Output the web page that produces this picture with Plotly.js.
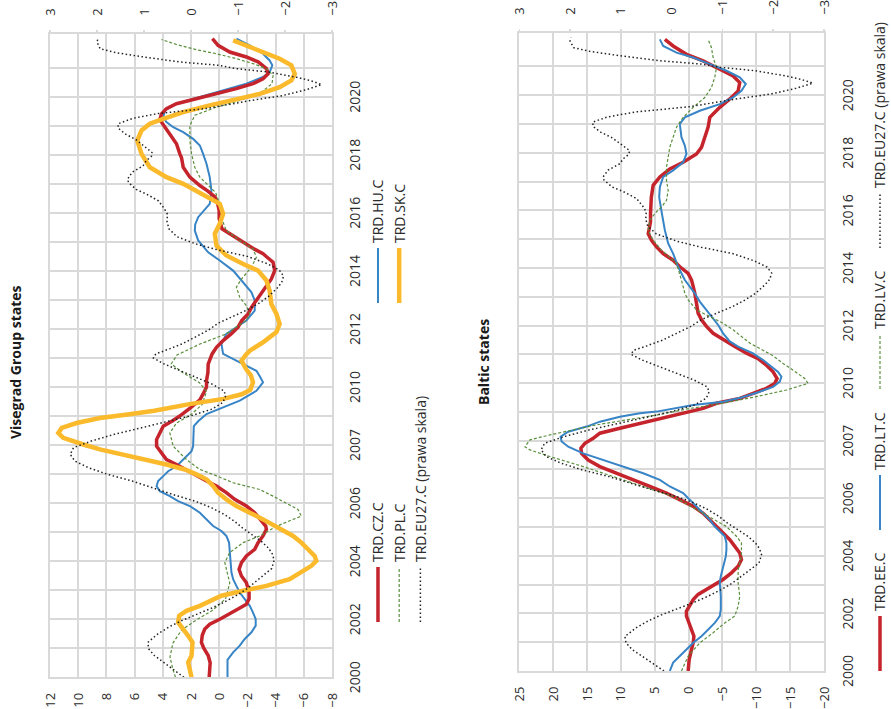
<!DOCTYPE html>
<html>
<head>
<meta charset="utf-8">
<script src="https://cdn.plot.ly/plotly-3.0.1.min.js"></script>
<style>
  html, body { margin: 0; padding: 0; background: #fff; overflow: hidden; width: 891px; height: 709px; }
  /* The chart is laid out upright (709 x 891) and turned a quarter turn counter-clockwise. */
  #chart { position: absolute; left: 0; top: 0; width: 709px; height: 891px;
           transform-origin: 0 0; transform: translate(0, 709px) rotate(-90deg); }
</style>
</head>
<body>
<div id="chart"></div>
<script>
// ---- Year axis labels (category labels as printed on the axis) ----
const yearTickVals = [2000, 2002, 2004, 2006, 2008, 2010, 2012, 2014, 2016, 2018, 2020];
const yearTickText = ['2000', '2002', '2004', '2006', '2007', '2010', '2012', '2014', '2016', '2018', '2020'];

// ---- Visegrad Group: [year, value] ----
const trdCZ = [[2000.0,0.71],[2000.5,0.64],[2000.75,0.78],[2001.0,1.09],[2001.2,1.26],[2001.45,1.2],[2001.66,1.02],[2001.83,0.67],[2002.0,-0.04],[2002.18,-0.75],[2002.35,-1.34],[2002.52,-1.93],[2002.7,-2.12],[2002.92,-2.12],[2003.26,-1.93],[2003.49,-1.58],[2003.72,-1.41],[2003.95,-1.58],[2004.18,-1.93],[2004.41,-2.52],[2004.64,-2.76],[2004.87,-3.11],[2005.1,-3.35],[2005.21,-3.3],[2005.44,-2.88],[2005.67,-2.52],[2005.9,-1.93],[2006.13,-1.1],[2006.36,-0.51],[2006.59,0.19],[2006.76,0.9],[2006.99,1.73],[2007.16,2.44],[2007.33,3.03],[2007.5,3.74],[2007.73,4.09],[2007.96,4.44],[2008.19,4.44],[2008.42,4.21],[2008.65,3.97],[2008.84,3.3],[2009.0,2.8],[2009.3,2.0],[2009.56,1.37],[2009.76,1.14],[2010.0,0.9],[2010.22,0.9],[2010.5,0.8],[2010.79,0.78],[2011.14,0.5],[2011.37,0.19],[2011.6,-0.28],[2011.83,-0.85],[2012.06,-1.34],[2012.29,-1.6],[2012.52,-2.05],[2012.75,-2.3],[2012.98,-2.64],[2013.21,-2.95],[2013.38,-3.23],[2013.72,-3.7],[2014.01,-3.94],[2014.3,-3.82],[2014.47,-3.4],[2014.59,-3.11],[2014.75,-2.5],[2014.93,-1.93],[2015.1,-1.3],[2015.28,-0.75],[2015.45,-0.2],[2015.8,0.0],[2016.08,0.0],[2016.3,0.1],[2016.55,0.3],[2016.75,0.8],[2016.94,1.37],[2017.23,2.08],[2017.57,2.55],[2017.9,2.67],[2018.03,2.79],[2018.38,3.03],[2018.72,3.5],[2019.01,3.97],[2019.21,4.21],[2019.41,4.09],[2019.59,3.74],[2019.76,3.03],[2019.93,1.61],[2020.1,0.19],[2020.28,-1.22],[2020.45,-2.4],[2020.62,-3.11],[2020.79,-3.47],[2020.97,-3.35],[2021.2,-2.76],[2021.37,-1.93],[2021.54,-0.75],[2021.77,0.08],[2022.0,0.48]];

const trdHU = [[2000.0,-0.59],[2000.6,-0.59],[2000.86,-0.99],[2001.09,-1.46],[2001.32,-1.81],[2001.55,-2.29],[2001.78,-2.59],[2002.0,-2.59],[2002.23,-2.4],[2002.46,-2.17],[2002.69,-1.81],[2002.92,-1.46],[2003.15,-1.22],[2003.38,-0.99],[2003.61,-0.87],[2003.95,-0.8],[2004.3,-0.75],[2004.64,-0.7],[2004.87,-0.51],[2005.04,-0.16],[2005.21,0.43],[2005.44,0.9],[2005.67,1.37],[2005.9,2.08],[2006.07,2.91],[2006.24,3.5],[2006.41,4.21],[2006.59,4.44],[2006.76,4.33],[2006.93,3.97],[2007.1,3.62],[2007.27,3.03],[2007.45,2.67],[2007.62,2.32],[2007.79,1.96],[2007.96,1.85],[2008.3,1.8],[2008.65,1.8],[2008.82,1.49],[2009.07,0.9],[2009.3,-0.28],[2009.53,-1.46],[2009.87,-2.64],[2010.16,-3.11],[2010.37,-2.88],[2010.56,-2.64],[2010.85,-1.46],[2011.14,-0.28],[2011.48,-0.16],[2011.83,-0.51],[2012.06,-1.22],[2012.29,-1.93],[2012.63,-2.52],[2012.98,-2.52],[2013.26,-2.29],[2013.61,-1.7],[2014.01,-0.99],[2014.36,-0.04],[2014.64,0.78],[2015.05,1.49],[2015.39,1.73],[2015.6,1.7],[2015.85,1.49],[2016.31,0.67],[2016.77,0.55],[2017.23,0.67],[2017.69,0.9],[2018.03,1.14],[2018.32,1.37],[2018.55,1.85],[2018.78,2.55],[2018.95,3.26],[2019.13,3.74],[2019.28,3.97],[2019.53,3.85],[2019.76,3.03],[2019.99,1.37],[2020.22,-0.28],[2020.45,-1.93],[2020.68,-3.11],[2020.85,-3.58],[2021.08,-3.77],[2021.25,-3.58],[2021.48,-3.11],[2021.77,-2.17],[2022.0,-1.22]];

const trdPL = [[2000.0,3.1],[2000.3,3.3],[2000.7,3.49],[2001.18,3.28],[2001.63,2.66],[2001.98,1.6],[2002.3,0.5],[2002.7,-0.45],[2003.25,-0.75],[2003.7,-0.51],[2003.95,-0.4],[2004.3,-0.75],[2004.64,-1.7],[2004.87,-2.88],[2005.2,-4.06],[2005.44,-5.24],[2005.55,-5.83],[2005.78,-5.59],[2006.0,-4.77],[2006.24,-3.82],[2006.47,-2.88],[2006.7,-0.99],[2006.94,0.19],[2007.16,1.37],[2007.5,2.32],[2007.96,3.26],[2008.42,3.5],[2008.76,3.03],[2009.05,2.0],[2009.4,1.2],[2009.85,0.9],[2010.15,1.4],[2010.5,2.6],[2010.8,3.4],[2011.1,3.0],[2011.48,1.37],[2011.83,-0.51],[2012.06,-1.22],[2012.3,-1.93],[2012.52,-2.17],[2012.8,-1.93],[2013.09,-1.46],[2013.44,-1.22],[2013.72,-1.58],[2014.13,-2.29],[2014.47,-2.64],[2014.76,-2.4],[2015.05,-1.46],[2015.39,-0.51],[2015.74,-0.23],[2016.3,-0.04],[2016.7,0.25],[2016.95,0.8],[2017.23,1.37],[2017.57,1.73],[2018.03,1.96],[2018.49,2.08],[2019.0,2.08],[2019.36,1.73],[2019.64,0.2],[2019.82,-1.1],[2019.99,-2.2],[2020.2,-3.11],[2020.45,-3.75],[2020.74,-3.82],[2020.97,-3.35],[2021.14,-2.4],[2021.31,-1.22],[2021.48,0.19],[2021.62,1.61],[2021.8,3.03],[2021.97,4.09]];

const trdSK = [[2000.0,1.96],[2000.29,2.08],[2000.52,2.2],[2000.74,1.96],[2000.97,1.89],[2001.2,1.89],[2001.43,2.2],[2001.66,2.55],[2001.89,2.91],[2002.12,2.84],[2002.29,2.32],[2002.46,1.37],[2002.63,0.67],[2002.81,-0.16],[2002.98,-1.7],[2003.15,-3.35],[2003.38,-5.0],[2003.61,-5.83],[2003.84,-6.54],[2004.01,-6.89],[2004.18,-6.77],[2004.41,-6.3],[2004.64,-5.83],[2004.87,-5.24],[2005.04,-4.65],[2005.21,-4.06],[2005.44,-3.11],[2005.67,-2.17],[2005.9,-1.22],[2006.13,-0.51],[2006.36,0.08],[2006.59,0.43],[2006.82,0.9],[2006.99,1.61],[2007.16,2.44],[2007.33,3.74],[2007.5,5.39],[2007.67,6.81],[2007.85,8.46],[2008.02,9.64],[2008.25,11.06],[2008.42,11.41],[2008.59,11.17],[2008.76,10.11],[2008.93,8.46],[2009.05,6.5],[2009.18,4.6],[2009.41,2.1],[2009.59,-0.3],[2009.75,-1.6],[2009.9,-2.2],[2010.16,-2.4],[2010.4,-2.25],[2010.6,-1.93],[2010.91,-1.58],[2011.11,-1.9],[2011.25,-2.17],[2011.54,-3.11],[2011.89,-4.06],[2012.17,-4.29],[2012.52,-4.06],[2012.86,-3.7],[2013.32,-3.58],[2013.67,-3.35],[2014.01,-2.76],[2014.24,-1.7],[2014.53,-0.51],[2014.87,0.19],[2015.28,0.31],[2015.62,-0.04],[2015.97,-0.28],[2016.31,-0.04],[2016.6,1.02],[2016.77,1.6],[2017.0,2.55],[2017.23,3.74],[2017.57,4.92],[2018.03,5.51],[2018.49,5.81],[2018.84,5.51],[2019.07,4.92],[2019.24,3.97],[2019.47,2.55],[2019.7,0.67],[2019.93,-1.22],[2020.1,-2.88],[2020.33,-4.29],[2020.56,-5.12],[2020.79,-5.36],[2021.08,-5.12],[2021.31,-4.29],[2021.54,-3.11],[2021.77,-1.93],[2021.94,-0.99]];

// ---- EU27 reference (right-hand scale), shown in both panels ----
const trdEU27 = [[2000.0,0.15],[2000.3,0.4],[2000.52,0.58],[2000.75,0.78],[2000.98,0.9],[2001.2,0.92],[2001.5,0.7],[2001.75,0.45],[2001.95,0.2],[2002.14,-0.1],[2002.37,-0.42],[2002.6,-0.72],[2002.83,-0.98],[2003.06,-1.2],[2003.29,-1.38],[2003.52,-1.56],[2003.75,-1.72],[2004.04,-1.77],[2004.25,-1.73],[2004.45,-1.65],[2004.68,-1.5],[2004.91,-1.3],[2005.14,-1.1],[2005.37,-0.93],[2005.6,-0.72],[2005.83,-0.45],[2006.06,-0.1],[2006.29,0.37],[2006.52,0.78],[2006.76,1.25],[2006.99,1.77],[2007.22,2.18],[2007.45,2.47],[2007.68,2.57],[2007.91,2.5],[2008.14,2.12],[2008.37,1.63],[2008.6,1.05],[2008.83,0.48],[2009.01,0.0],[2009.24,-0.45],[2009.47,-0.68],[2009.7,-0.74],[2009.87,-0.7],[2010.1,-0.45],[2010.33,-0.1],[2010.57,0.25],[2010.8,0.58],[2011.0,0.8],[2011.14,0.75],[2011.3,0.48],[2011.5,0.17],[2011.73,-0.1],[2011.97,-0.38],[2012.2,-0.58],[2012.43,-0.88],[2012.66,-1.2],[2012.89,-1.45],[2013.12,-1.65],[2013.4,-1.83],[2013.6,-1.93],[2013.82,-1.97],[2014.03,-1.88],[2014.25,-1.62],[2014.5,-1.2],[2014.72,-0.58],[2014.93,-0.1],[2015.18,0.3],[2015.45,0.47],[2015.7,0.51],[2015.95,0.5],[2016.15,0.57],[2016.41,0.69],[2016.65,0.95],[2016.81,1.17],[2017.05,1.33],[2017.16,1.35],[2017.4,1.25],[2017.62,1.02],[2017.8,0.95],[2017.95,0.84],[2018.08,0.83],[2018.3,1.0],[2018.52,1.17],[2018.72,1.4],[2018.92,1.55],[2019.07,1.55],[2019.25,1.25],[2019.42,0.7],[2019.6,-0.35],[2019.87,-1.27],[2020.04,-1.95],[2020.24,-2.45],[2020.42,-2.78],[2020.55,-2.55],[2020.67,-2.25],[2020.85,-1.65],[2020.97,-0.95],[2021.08,-0.6],[2021.2,0.25],[2021.38,1.05],[2021.52,1.6],[2021.65,1.93],[2021.88,2.0],[2022.0,1.98]];

// ---- Baltic states: [year, value] ----
const trdEE = [[2000.0,0.06],[2000.4,-0.09],[2000.75,-0.44],[2000.98,-0.69],[2001.21,-0.79],[2001.44,-0.44],[2001.67,-0.19],[2001.91,0.31],[2002.08,0.31],[2002.25,-0.09],[2002.48,-0.69],[2002.66,-1.41],[2002.83,-2.64],[2003.0,-3.87],[2003.18,-5.1],[2003.41,-6.33],[2003.64,-7.32],[2003.87,-7.81],[2004.1,-7.56],[2004.33,-6.83],[2004.56,-6.09],[2004.79,-5.1],[2005.02,-4.12],[2005.25,-3.14],[2005.48,-2.15],[2005.72,-0.69],[2005.95,1.29],[2006.18,3.26],[2006.41,5.72],[2006.64,8.18],[2006.87,10.64],[2007.1,13.1],[2007.33,14.82],[2007.56,15.8],[2007.74,15.9],[2007.91,15.31],[2008.08,14.08],[2008.26,13.1],[2008.43,10.14],[2008.6,7.19],[2008.78,4.24],[2008.95,0.8],[2009.12,-2.15],[2009.3,-4.12],[2009.47,-7.56],[2009.64,-9.53],[2009.82,-11.5],[2009.99,-12.73],[2010.16,-13.07],[2010.39,-12.48],[2010.62,-11.5],[2010.85,-10.27],[2011.04,-8.55],[2011.27,-6.83],[2011.5,-5.1],[2011.73,-3.63],[2011.97,-2.64],[2012.2,-1.91],[2012.43,-1.41],[2012.66,-1.27],[2012.89,-1.07],[2013.12,-0.92],[2013.35,-0.69],[2013.58,-0.44],[2013.81,0.06],[2014.04,1.29],[2014.27,2.28],[2014.5,3.75],[2014.73,4.73],[2014.96,5.47],[2015.19,5.96],[2015.37,5.82],[2015.6,5.62],[2015.89,5.62],[2016.12,5.57],[2016.46,5.5],[2016.87,5.23],[2017.16,4.24],[2017.44,2.77],[2017.67,0.8],[2017.96,-1.17],[2018.19,-1.91],[2018.54,-2.4],[2018.89,-2.89],[2019.23,-3.14],[2019.58,-4.61],[2019.87,-6.09],[2020.15,-7.32],[2020.44,-7.56],[2020.67,-6.58],[2020.9,-4.61],[2021.19,-2.15],[2021.42,0.31],[2021.71,2.28],[2021.94,3.5]];

const trdLT = [[2000.0,2.77],[2000.29,2.28],[2000.52,1.29],[2000.75,0.31],[2000.98,-0.69],[2001.21,-1.91],[2001.44,-2.89],[2001.67,-3.87],[2001.91,-4.61],[2002.14,-4.76],[2002.6,-4.76],[2002.83,-4.71],[2003.06,-4.61],[2003.29,-4.76],[2003.52,-5.0],[2003.75,-5.2],[2003.98,-5.5],[2004.21,-5.59],[2004.45,-5.59],[2004.68,-5.35],[2004.85,-4.61],[2005.02,-3.87],[2005.25,-3.14],[2005.48,-2.15],[2005.72,-1.17],[2005.95,-0.19],[2006.18,0.8],[2006.41,2.77],[2006.64,4.24],[2006.87,6.7],[2007.1,9.65],[2007.33,12.6],[2007.56,15.56],[2007.79,17.77],[2007.97,18.75],[2008.14,18.9],[2008.31,17.77],[2008.49,15.06],[2008.66,13.1],[2008.83,10.14],[2008.95,7.19],[2009.01,4.73],[2009.12,2.28],[2009.24,-0.69],[2009.35,-5.1],[2009.5,-7.81],[2009.7,-10.51],[2009.87,-12.48],[2010.05,-13.47],[2010.22,-13.71],[2010.39,-13.22],[2010.57,-12.24],[2010.8,-11.01],[2011.03,-9.53],[2011.27,-7.32],[2011.45,-6.09],[2011.73,-5.1],[2012.02,-4.37],[2012.25,-3.63],[2012.54,-2.64],[2012.83,-1.66],[2013.12,-0.92],[2013.35,-0.18],[2013.58,0.55],[2014.04,1.54],[2014.5,2.28],[2014.85,3.01],[2015.31,3.5],[2015.77,3.85],[2016.23,4.24],[2016.46,4.34],[2016.81,4.24],[2017.16,3.75],[2017.39,2.28],[2017.67,0.8],[2017.96,0.31],[2018.25,0.55],[2018.54,1.05],[2019.0,1.29],[2019.23,0.55],[2019.46,-1.66],[2019.69,-4.61],[2019.92,-6.58],[2020.15,-7.81],[2020.39,-8.45],[2020.62,-7.56],[2020.85,-5.6],[2021.08,-3.14],[2021.31,-0.68],[2021.48,1.78],[2021.71,3.75],[2021.94,4.24]];

const trdLV = [[2000.0,1.05],[2000.52,0.06],[2000.98,-1.66],[2001.33,-3.63],[2001.67,-5.35],[2001.91,-6.83],[2002.25,-7.32],[2002.6,-7.56],[2003.06,-7.32],[2003.52,-7.32],[2003.98,-7.81],[2004.45,-7.81],[2004.68,-7.07],[2005.02,-5.59],[2005.48,-2.15],[2006.06,2.28],[2006.29,5.23],[2006.64,9.65],[2007.1,15.56],[2007.45,20.47],[2007.68,23.43],[2007.79,24.16],[2008.03,23.43],[2008.2,20.47],[2008.37,17.03],[2008.55,13.59],[2008.72,9.16],[2008.89,4.73],[2009.12,-0.18],[2009.3,-5.1],[2009.53,-10.02],[2009.76,-14.45],[2009.99,-17.65],[2010.16,-17.15],[2010.45,-15.43],[2010.68,-13.96],[2010.95,-12.48],[2011.39,-9.04],[2011.85,-6.58],[2012.08,-5.1],[2012.31,-3.14],[2012.54,-1.17],[2012.89,0.06],[2013.12,0.55],[2013.58,1.05],[2014.16,1.78],[2014.62,3.99],[2014.96,5.23],[2015.31,5.96],[2015.66,5.72],[2015.89,4.98],[2016.12,3.99],[2016.35,3.26],[2016.69,3.01],[2017.04,3.26],[2017.5,3.26],[2017.85,3.01],[2018.19,2.77],[2018.54,2.28],[2018.89,1.78],[2019.23,0.8],[2019.58,-0.68],[2019.92,-2.4],[2020.27,-3.38],[2020.62,-3.87],[2020.96,-4.12],[2021.31,-3.63],[2021.65,-3.38],[2021.94,-2.89]];

// ---- Styling ----
const RED = '#c5242c', BLUE = '#3784c6', YELLOW = '#fbba2b', GREEN = '#5a8f3c', BLACK = '#222222';
const GRID = '#d9d9d9';
const VALUE_FONT = { family: '"Open Sans", sans-serif', size: 13, color: '#2b2b2b' };
const YEAR_FONT = { family: '"Open Sans", sans-serif', size: 14, color: '#2b2b2b' };

// yearly gridlines between the labelled ticks
const gridYears = [];
for (let yr = 2000; yr <= 2021; yr++) gridYears.push(yr);

const xs = s => s.map(p => p[0]);
const ys = s => s.map(p => p[1]);

function line(series, name, xa, ya, legend, rank, style, extra) {
  return Object.assign({
    type: 'scatter', mode: 'lines', name: name,
    x: xs(series), y: ys(series), xaxis: xa, yaxis: ya,
    legend: legend, legendrank: rank, line: style, hoverinfo: 'skip'
  }, extra || {});
}

const dashGreen = '3px,2px';
const dotBlack = '1.5px,2.5px';

const traces = [
  // Visegrad Group
  line(trdHU, 'TRD.HU.C', 'x', 'y', 'legend', 2, { color: BLUE, width: 2 }, { legendwidth: 60 }),
  line(trdCZ, 'TRD.CZ.C', 'x', 'y', 'legend', 1, { color: RED, width: 3.5 }),
  line(trdPL, 'TRD.PL.C', 'x', 'y', 'legend', 3, { color: GREEN, width: 1.2, dash: dashGreen }),
  line(trdSK, 'TRD.SK.C', 'x', 'y', 'legend', 4, { color: YELLOW, width: 4.5 }, { legendwidth: 60 }),
  line(trdEU27, 'TRD.EU27.C (prawa skala)', 'x', 'y3', 'legend', 5, { color: BLACK, width: 1.5, dash: dotBlack }),
  // Baltic states
  line(trdEE, 'TRD.EE.C', 'x2', 'y2', 'legend2', 1, { color: RED, width: 3.5 }),
  line(trdLT, 'TRD.LT.C', 'x2', 'y2', 'legend2', 2, { color: BLUE, width: 2 }),
  line(trdLV, 'TRD.LV.C', 'x2', 'y2', 'legend2', 3, { color: GREEN, width: 1.2, dash: dashGreen }),
  line(trdEU27, 'TRD.EU27.C (prawa skala)', 'x2', 'y4', 'legend2', 4, { color: BLACK, width: 1.5, dash: dotBlack }, { legendwidth: 170 })
];

function yearAxis(domain, anchor, standoff) {
  return {
    domain: domain, anchor: anchor, range: [2000, 2022.15],
    tickmode: 'array', tickvals: yearTickVals, ticktext: yearTickText,
    showgrid: true, gridcolor: GRID, gridwidth: 2,
    minor: { tickmode: 'array', tickvals: gridYears, showgrid: true, gridcolor: GRID, gridwidth: 2, ticks: '' },
    showline: true, mirror: true, linecolor: GRID, linewidth: 2,
    ticks: '', zeroline: false, tickfont: YEAR_FONT, ticklabelstandoff: standoff, fixedrange: true
  };
}
function valueAxis(domain, anchor, range, dtick) {
  return {
    domain: domain, anchor: anchor, range: range, dtick: dtick, tick0: 0,
    showgrid: true, gridcolor: GRID, gridwidth: 2, zeroline: false,
    showline: true, mirror: true, linecolor: GRID, linewidth: 2,
    ticks: '', tickfont: VALUE_FONT, ticklabelstandoff: 11, fixedrange: true
  };
}
function rightAxis(over, anchor) {
  return {
    overlaying: over, anchor: anchor, side: 'right', range: [-3, 3], dtick: 1, tick0: 0,
    showgrid: false, zeroline: false, showline: false,
    ticks: 'outside', ticklen: 3, tickwidth: 1.5, tickcolor: GRID,
    tickfont: VALUE_FONT, ticklabelstandoff: 12, fixedrange: true
  };
}

const legendBase = {
  orientation: 'h', xanchor: 'left', yanchor: 'top', itemwidth: 55,
  font: { family: '"Open Sans", sans-serif', size: 14, color: '#2b2b2b' },
  bgcolor: 'rgba(0,0,0,0)', traceorder: 'normal', itemclick: false, itemdoubleclick: false
};

const layout = {
  width: 709, height: 891,
  margin: { l: 20, r: 20, t: 50, b: 67, autoexpand: false },
  paper_bgcolor: '#ffffff', plot_bgcolor: '#ffffff',
  font: { family: '"Open Sans", sans-serif', color: '#2b2b2b' },
  showlegend: true, hovermode: false,
  xaxis: yearAxis([0.0175, 0.9786], 'y', 9),
  yaxis: valueAxis([0.6357, 1], 'x', [-8, 12], 2),
  yaxis3: rightAxis('y', 'x'),
  xaxis2: yearAxis([0.0269, 0.9801], 'y2', 10),
  yaxis2: valueAxis([0, 0.3937], 'x2', [-20, 25], 5),
  yaxis4: rightAxis('y2', 'x2'),
  legend: Object.assign({}, legendBase, { x: 0.0927, y: 0.5964, entrywidth: 249 }),
  legend2: Object.assign({}, legendBase, { x: 0.0194, y: -0.0522, entrywidth: 71 }),
  annotations: [
    { text: '<b>Visegrad Group states</b>', xref: 'paper', yref: 'paper', x: 0.4888, y: 1.0452,
      xanchor: 'center', yanchor: 'middle', showarrow: false,
      font: { family: '"Open Sans", sans-serif', size: 14, color: '#1a1a1a' } },
    { text: '<b>Baltic states</b>', xref: 'paper', yref: 'paper', x: 0.4895, y: 0.4393,
      xanchor: 'center', yanchor: 'middle', showarrow: false,
      font: { family: '"Open Sans", sans-serif', size: 14, color: '#1a1a1a' } }
  ]
};

Plotly.newPlot('chart', traces, layout, { staticPlot: true, displayModeBar: false });
</script>
</body>
</html>
